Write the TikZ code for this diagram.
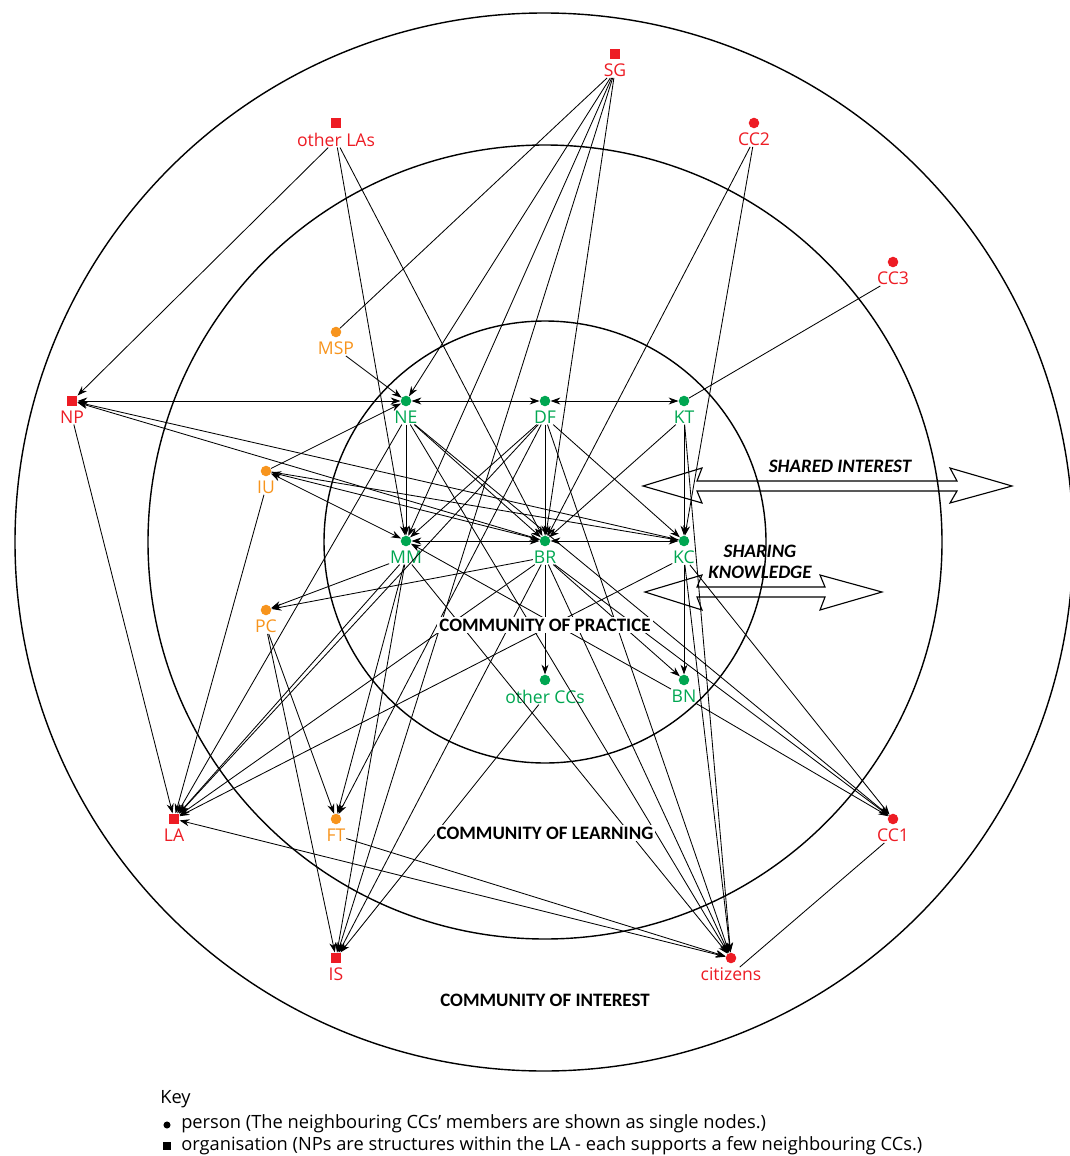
\documentclass[tikz,border=0pt]{standalone}
\usepackage{fontspec}
\setmainfont{Open Sans}
\newfontfamily\calfont{Carlito}
\usetikzlibrary{arrows.meta}
\definecolor{copgreen}{RGB}{0,166,81}
\definecolor{colorange}{RGB}{247,148,29}
\definecolor{coired}{RGB}{237,28,36}
\def\nodefont{\fontsize{12.5}{13}\selectfont}
\def\keyfont{\fontsize{13}{14}\selectfont}
\def\bandfont{\calfont\bfseries\fontsize{13.5}{15}\selectfont}
\tikzset{
  person/.style={circle,fill=#1,inner sep=0pt,minimum size=7.5pt},
  organisation/.style={rectangle,fill=#1,inner sep=0pt,minimum size=7.5pt},
  nlab/.style={text=#1,font=\nodefont,inner sep=0.5pt,label distance=2.5pt},
  tip/.tip={Stealth[length=7pt,width=5pt]},
  edge/.style={line width=0.6pt,-tip},
  twoway/.style={line width=0.6pt,tip-tip},
  plain/.style={line width=0.6pt},
  ring/.style={line width=1pt},
  community/.style={font=\bandfont,fill=white,inner sep=1.5pt},
  flow/.style={font=\bandfont\itshape,inner sep=0pt},
  bigarrow/.style={line width=0.8pt,line join=miter},
}

\begin{document}
\begin{tikzpicture}[x=0.025cm,y=-0.025cm]
    \useasboundingbox (0,0) rectangle (1070,1156);

    % the three communities
    \draw[ring] (544,542) circle (529);
    \draw[ring] (545,542) circle (397);
    \draw[ring] (545,542) circle (221);

    % nodes (dot + label, label named -t)
    \node[organisation=coired,label={[nlab=coired,name=sg-t]below:SG}] (sg) at (615,54) {};
    \node[organisation=coired,label={[nlab=coired,name=ola-t]below:other LAs}] (ola) at (336,123) {};
    \node[person=coired,label={[nlab=coired,name=cc2-t]below:CC2}] (cc2) at (754,123) {};
    \node[person=coired,label={[nlab=coired,name=cc3-t]below:CC3}] (cc3) at (893,262) {};
    \node[person=colorange,label={[nlab=colorange,name=msp-t]below:MSP}] (msp) at (336,332) {};
    \node[organisation=coired,label={[nlab=coired,name=np-t]below:NP}] (np) at (72,401) {};
    \node[person=copgreen,label={[nlab=copgreen,name=ne-t]below:NE}] (ne) at (406,401) {};
    \node[person=copgreen,label={[nlab=copgreen,name=df-t]below:DF}] (df) at (545,401) {};
    \node[person=copgreen,label={[nlab=copgreen,name=kt-t]below:KT}] (kt) at (684,401) {};
    \node[person=colorange,label={[nlab=colorange,name=iu-t]below:IU}] (iu) at (266,471) {};
    \node[person=copgreen,label={[nlab=copgreen,name=mm-t]below:MM}] (mm) at (406,541) {};
    \node[person=copgreen,label={[nlab=copgreen,name=br-t]below:BR}] (br) at (545,541) {};
    \node[person=copgreen,label={[nlab=copgreen,name=kc-t]below:KC}] (kc) at (684,541) {};
    \node[person=colorange,label={[nlab=colorange,name=pc-t]below:PC}] (pc) at (266,610) {};
    \node[person=copgreen,label={[nlab=copgreen,name=occ-t]below:other CCs}] (occ) at (545,680) {};
    \node[person=copgreen,label={[nlab=copgreen,name=bn-t]below:BN}] (bn) at (684,680) {};
    \node[organisation=coired,label={[nlab=coired,name=la-t]below:LA}] (la) at (174,819) {};
    \node[person=colorange,label={[nlab=colorange,name=ft-t]below:FT}] (ft) at (336,819) {};
    \node[person=coired,label={[nlab=coired,name=cc1-t]below:CC1}] (cc1) at (893,819) {};
    \node[organisation=coired,label={[nlab=coired,name=is-t]below:IS}] (is) at (336,958) {};
    \node[person=coired,label={[nlab=coired,name=cit-t]below:citizens}] (cit) at (731,958) {};

    % ties: from the sender's label to the receiver's dot
    \foreach \a/\b in {sg/ne,sg/mm,sg/is,sg/br,msp/ne,ola/np,ola/mm,ola/br,
        cc2/br,cc2/kc,kt/kc,kt/br,kt/cit,np/la,ne/mm,ne/br,ne/la,ne/cit,ne/cc1,
        df/mm,df/br,df/kc,df/ft,df/cit,df/la,iu/la,
        mm/pc,mm/la,mm/ft,mm/cit,mm/is,br/pc,br/la,br/occ,br/bn,br/cit,
        br/cc1,br/is,kc/bn,kc/la,kc/cit,kc/cc1,pc/ft,pc/is,bn/cc1,bn/mm,
        ft/cit,occ/is}
        \draw[edge] (\a-t) -- (\b);
    % ties leaving from the dot itself
    \foreach \a/\b in {iu/ne,iu/kc,br/np,kc/np}
        \draw[edge] (\a) -- (\b);
    \foreach \a/\b in {np/ne,ne/df,df/kt,iu/mm,iu/br,mm/br,br/kc,la/cit}
        \draw[twoway] (\a) -- (\b);
    \draw[plain] (sg-t) -- (msp);
    \draw[plain] (kt) -- (cc3-t);
    \draw[plain] (cit-t) -- (cc1-t);

    % sharing arrows
    \draw[bigarrow] (643,486) -- (702,468) -- (697,481) -- (957,481) -- (950,468)
        -- (1012,486) -- (950,503) -- (957,491) -- (697,491) -- (702,503) -- cycle;
    \draw[bigarrow] (645,592) -- (702,575) -- (697,587) -- (825,587) -- (820,575)
        -- (882,592) -- (820,610) -- (825,597) -- (697,597) -- (702,610) -- cycle;
    \node[flow] (si) at (840,466) {SHARED INTEREST};
    \node[flow,align=center] (sk) at (760,562) {SHARING\\KNOWLEDGE};

    \node[community] (cop) at (545,625) {COMMUNITY OF PRACTICE};
    \node[community] (col) at (545,833) {COMMUNITY OF LEARNING};
    \node[community] (coi) at (545,1000) {COMMUNITY OF INTEREST};

    % key
    \node[anchor=west,font=\keyfont,inner sep=0pt] (key) at (160,1099) {Key};
    \node[person=black,minimum size=5pt] (kdot) at (167,1125) {};
    \node[anchor=west,font=\keyfont,inner sep=0pt] (kperson) at (181,1124)
        {person (The neighbouring CCs’ members are shown as single nodes.)};
    \node[organisation=black,minimum size=5pt] (ksq) at (167,1146) {};
    \node[anchor=west,font=\keyfont,inner sep=0pt] (korg) at (181,1146)
        {organisation (NPs are structures within the LA - each supports a few neighbouring CCs.)};
\end{tikzpicture}
\end{document}
